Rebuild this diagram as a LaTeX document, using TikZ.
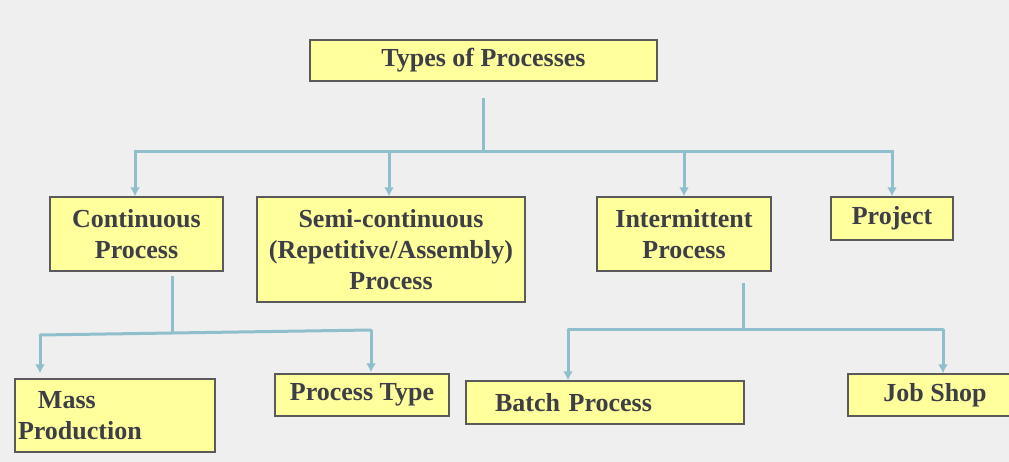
\documentclass[tikz,border=0pt]{standalone}
\usepackage{fontspec}
\setmainfont{Liberation Serif}
\usetikzlibrary{arrows.meta,calc}

\definecolor{paper}{HTML}{EFEFEF}
\definecolor{boxfill}{HTML}{FFFF9C}
\definecolor{boxline}{HTML}{5A5A5A}
\definecolor{ink}{HTML}{3E3E48}
\definecolor{wire}{HTML}{8FBFCC}

\tikzset{
  box/.style={draw=boxline, line width=1.4pt, fill=boxfill, text=ink,
    font=\fontsize{26}{31}\selectfont\bfseries, inner sep=0pt,
    align=center, minimum width=#1},
  box/.default=100pt,
  link/.style={draw=wire, line width=3pt},
  arrowlink/.style={link, -{Latex[length=9pt,width=10pt]}}
}

\begin{document}
\begin{tikzpicture}[x=1pt, y=-1pt]
  \useasboundingbox (0,0) rectangle (1009,462);
  \fill[paper] (0,0) rectangle (1009,462);
  \clip (0,0) rectangle (1009,462);

  % boxes
  \node[box=347pt, minimum height=41pt] (top) at (483.5,60.5) {Types of Processes};

  \node[box=173pt, minimum height=74pt] (cont) at (136.5,234) {Continuous\\Process};
  \node[box=268pt, minimum height=105pt] (semi) at (391,249.5) {Semi-continuous\\(Repetitive/Assembly)\\Process};
  \node[box=174pt, minimum height=74pt] (inter) at (684,234) {Intermittent\\Process};
  \node[box=122pt, minimum height=43pt] (proj) at (892,218.5) {Project};

  \node[box=200pt, minimum height=73pt, align=left, text width=194pt, inner xsep=3pt] (mass) at (115,415.5)
    {\hspace{20pt}Mass\\Production};
  \node[box=174pt, minimum height=42pt] (ptype) at (362,395) {Process Type};
  \node[box=278pt, minimum height=43pt, align=left, text width=220pt, inner xsep=29pt] (batch) at (605,402.5)
    {Batch Process};
  \node[box=174pt, minimum height=42pt] (job) at (935,395) {Job Shop};

  % first level of the tree
  \coordinate (trunk) at ($(top.south)+(0,16)$);
  \coordinate (hub) at (trunk |- 0,152);
  \draw[link] (trunk) -- (hub);
  \coordinate (tc) at ($(cont.north)+(-1.5,0)$);
  \coordinate (ts) at ($(semi.north)+(-2,0)$);
  \draw[arrowlink] (hub) -| (tc);
  \draw[arrowlink] (hub) -| (ts);
  \draw[arrowlink] (hub) -| (inter.north);
  \draw[arrowlink] (hub) -| (proj.north);

  % branch under the continuous process
  \coordinate (cstem) at ($(cont.south)+(35.5,4)$);
  \coordinate (chub) at (172,333);
  \coordinate (cl) at (40,335);
  \coordinate (cr) at (371,330);
  \coordinate (tm) at (cl |- mass.north);
  \coordinate (tp) at (cr |- ptype.north);
  \draw[link] (cstem) -- (chub);
  \draw[link, line cap=round] (cl) -- (cr);
  \draw[arrowlink] (cl) -- ($(tm)+(0,-5)$);
  \draw[arrowlink] (cr) -- ($(tp)+(0,-1)$);

  % branch under the intermittent process
  \coordinate (istem) at (743,283);
  \coordinate (ihub) at (743,329);
  \coordinate (il) at (568,329);
  \coordinate (ir) at (943,329);
  \draw[link] (istem) -- (ihub);
  \draw[link, line cap=round] (il) -- (ir);
  \draw[arrowlink] (il) -- (il |- batch.north);
  \draw[arrowlink] (ir) -- (ir |- job.north);
\end{tikzpicture}
\end{document}
